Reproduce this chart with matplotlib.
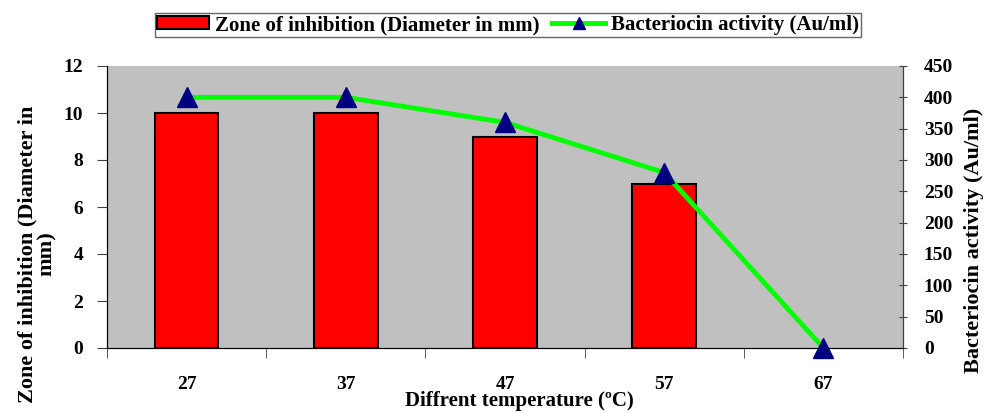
import matplotlib
matplotlib.use("Agg")
import matplotlib.pyplot as plt
import numpy as np

# data
temperatures = ["27", "37", "47", "57", "67"]
zone_mm = [10, 10, 9, 7, 0]
activity_au = [400, 400, 360, 280, 0]

plt.rcParams["font.family"] = "Liberation Serif"
plt.rcParams["font.weight"] = "bold"

fig = plt.figure(figsize=(9.85, 4.13), dpi=100)
ax = fig.add_axes([107 / 985, 1 - 348 / 413, 796 / 985, 282 / 413])
ax2 = ax.twinx()

x = np.arange(len(temperatures))
ax.set_facecolor("#C0C0C0")
bars = ax.bar(x, zone_mm, width=0.4, color="#FF0000", edgecolor="black",
              linewidth=1.5, label="Zone of inhibition (Diameter in mm)", zorder=2)
# Excel does not draw an outline for an empty bar
for b, v in zip(bars, zone_mm):
    if v == 0:
        b.set_linewidth(0)
line, = ax2.plot(x, activity_au, color="#00FF00", linewidth=3.5, marker="^",
                 markersize=15, markerfacecolor="#000080", markeredgecolor="#000080",
                 label="Bacteriocin activity (Au/ml)", clip_on=False, zorder=3)

ax.set_xlim(-0.5, len(temperatures) - 0.5)
ax.set_ylim(0, 12)
ax.set_yticks(range(0, 13, 2))
ax2.set_ylim(0, 450)
ax2.set_yticks(range(0, 451, 50))

# category labels at bar centres, tick marks at the category boundaries
ax.set_xticks(x)
ax.set_xticklabels(temperatures, fontsize=14, fontweight="bold")
ax.tick_params(axis="x", which="major", length=0, pad=20)
ax.set_xticks(np.arange(-0.5, len(temperatures), 1.0), minor=True)
ax.tick_params(axis="x", which="minor", length=7, direction="out", color="#404040")

ax.tick_params(axis="y", labelsize=14, length=7, direction="out", color="#404040", pad=10)
ax2.tick_params(axis="y", labelsize=14, length=6, direction="inout", color="#404040", pad=12)
for t in ax.get_yticklabels() + ax2.get_yticklabels():
    t.set_fontweight("bold")

ax.spines["top"].set_visible(False)
ax2.spines["top"].set_visible(False)
ax.spines["left"].set_color("#404040")
ax2.spines["right"].set_color("#404040")
ax.spines["bottom"].set_color("black")

# axis titles sit where Excel put them (not centred on the plot area)
ax.set_xlabel("Diffrent temperature (\u00baC)", fontsize=15, fontweight="bold")
ax.xaxis.set_label_coords((519 - 107) / 796, -(391 - 348) / 282)
ax.set_ylabel("Zone of inhibition (Diameter in\nmm)", fontsize=16, fontweight="bold",
              linespacing=0.95)
ax.yaxis.set_label_coords((57 - 107) / 796, (348 - 254) / 282)
ax2.set_ylabel("Bacteriocin activity (Au/ml)", fontsize=16, fontweight="bold")
ax2.yaxis.set_label_coords((964 - 107) / 796, (348 - 240) / 282)

leg = fig.legend(handles=[bars, line], loc="center", bbox_to_anchor=(508 / 985, 1 - 25 / 413),
                 ncol=2, fontsize=15, frameon=True, fancybox=False, edgecolor="#404040",
                 handlelength=2.5, handleheight=0.6, handletextpad=0.3, columnspacing=0.6,
                 borderpad=0.1, markerscale=0.6)
leg.get_frame().set_linewidth(1.0)
for t in leg.get_texts():
    t.set_fontweight("bold")

fig.savefig("out.png", dpi=100)
